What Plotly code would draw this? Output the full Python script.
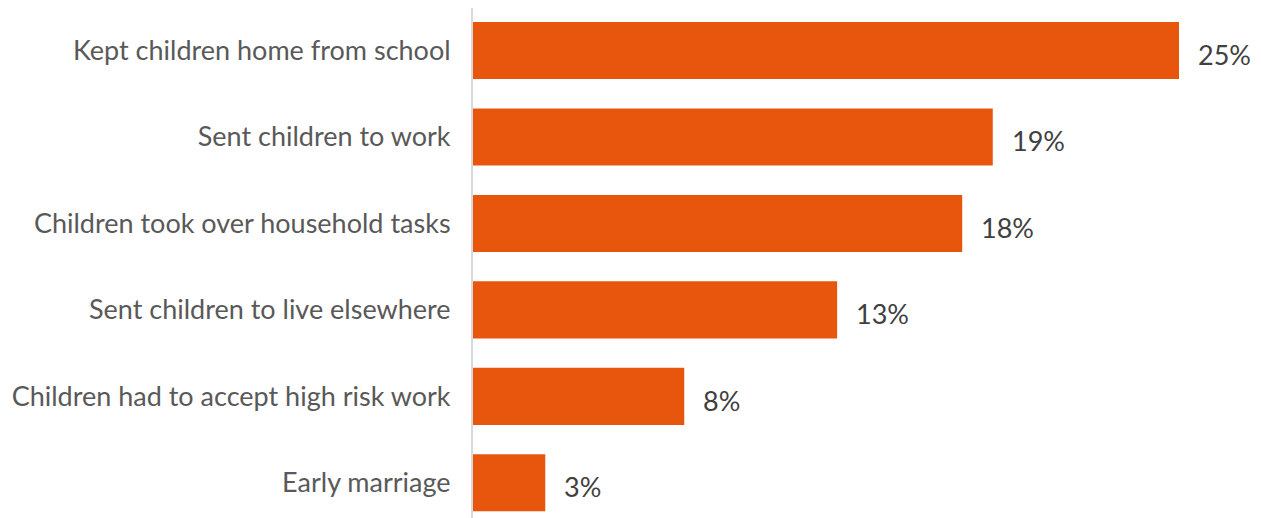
import plotly.graph_objects as go

categories = [
    "Kept children home from school",
    "Sent children to work",
    "Children took over household tasks",
    "Sent children to live elsewhere",
    "Children had to accept high risk work",
    "Early marriage",
]
values = [25.4, 18.7, 17.6, 13.1, 7.6, 2.6]
labels = ["25%", "19%", "18%", "13%", "8%", "3%"]

BAR = "#E8560E"
FONT = "Lato"

fig = go.Figure(go.Bar(
    y=categories, x=values, orientation="h",
    marker=dict(color=BAR, line=dict(width=0)),
    width=0.66,
    hoverinfo="skip",
))

for c, v, t in zip(categories, values, labels):
    fig.add_annotation(x=v, y=c, text=t, showarrow=False, xanchor="left",
                       xshift=17, yshift=-4,
                       font=dict(family=FONT, size=27, color="#404040"))

fig.update_layout(
    width=1253, height=510,
    margin=dict(l=465, r=0, t=0, b=0, autoexpand=False),
    paper_bgcolor="white", plot_bgcolor="white",
    showlegend=False,
)
fig.update_xaxes(range=[0, 28.35], visible=False, showgrid=False, zeroline=False)
fig.update_yaxes(
    categoryorder="array", categoryarray=categories[::-1],
    range=[-0.407, 5.492],
    showline=True, linecolor="#d9d9d9", linewidth=2,
    showgrid=False, zeroline=False,
    ticks="outside", ticklen=15, tickcolor="rgba(0,0,0,0)",
    tickfont=dict(family=FONT, size=27, color="#595959"),
)

fig.write_html("out.html")
